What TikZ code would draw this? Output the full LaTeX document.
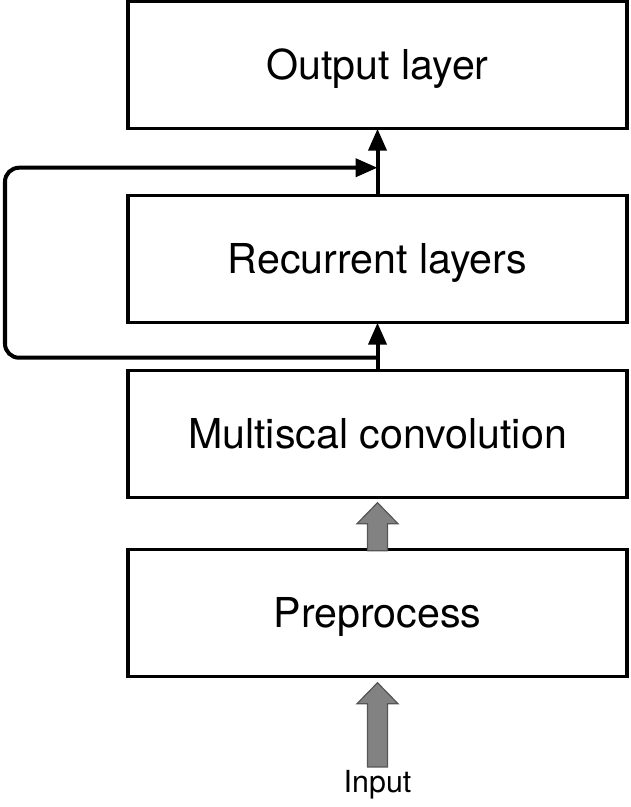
\documentclass[tikz,border=0pt]{standalone}
\usepackage{fontspec}
\setmainfont{TeX Gyre Heros}
\usetikzlibrary{positioning,arrows.meta,calc}

\tikzset{
	layer/.style={draw=black, line width=0.085cm, minimum width=12.475cm, minimum height=3.175cm, inner sep=0pt, outer sep=0pt, text height=21pt, text depth=0pt, font=\fontsize{29.3}{35}\selectfont},
	flow/.style={black, line width=0.1cm, -{Triangle[length=5.5mm,width=4.5mm]}},
	fatarrow/.style={fill={rgb,255:red,130;green,130;blue,130}, draw={rgb,255:red,85;green,85;blue,85}, line width=0.03cm, line join=miter}
}

\begin{document}
\begin{tikzpicture}
		%\draw[thin, draw=LightGray, step=5mm] (0,0) grid (15.75,20.175);
		\useasboundingbox (0,0) rectangle (15.75,20.175);
		
		\node[layer] (out) at (9.4375,18.544) {Output layer};
		\node[layer, below=1.675cm of out] (rec) {Recurrent layers};
		\node[layer, below=1.2cm of rec] (conv) {Multiscal convolution};
		\node[layer, below=1.3cm of conv] (pre) {Preprocess};
		\node[black, font=\fontsize{21.6}{26}\selectfont] (in) at (9.4375,0.5625) {Input};
		
		\coordinate (split) at ($(conv.north)+(0,0.325)$);
		\coordinate (join) at ($(rec.north)+(0,0.7)$);
		\coordinate (lft) at (0.125,0);
		
		\draw[flow] (conv.north) -- (rec.south);
		\draw[flow] (rec.north) -- (out.south);
		\draw[flow, rounded corners=0.35cm] (split) -- (split -| lft) -- (join -| lft) -- (join);
		
		\draw[fatarrow] ($(conv.south)+(0,-0.125)$) -- ++(0.5125,-0.525) -- ++(-0.2625,0) -- ++(0,-0.675) -- ++(-0.5,0) -- ++(0,0.675) -- ++(-0.2625,0) -- cycle;
		\draw[fatarrow] ($(pre.south)+(0,-0.15)$) -- ++(0.5125,-0.525) -- ++(-0.2625,0) -- ++(0,-1.58) -- ++(-0.5,0) -- ++(0,1.58) -- ++(-0.2625,0) -- cycle;
	\end{tikzpicture}
\end{document}
